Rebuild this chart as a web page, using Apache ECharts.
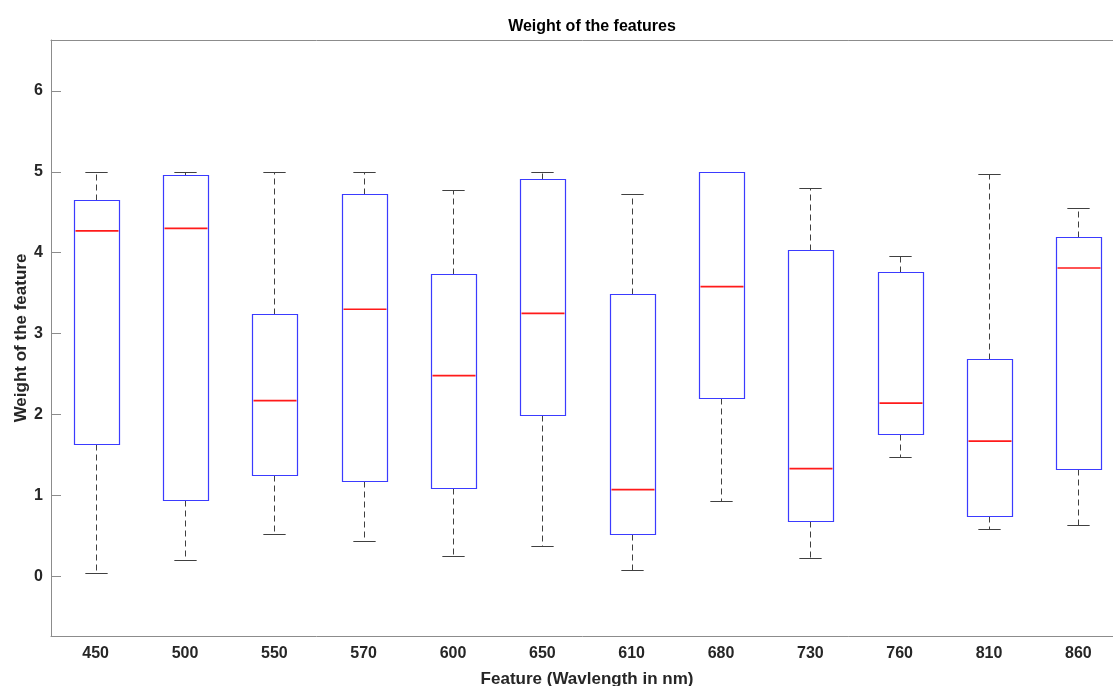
<!DOCTYPE html>
<html lang="en">
<head>
  <meta charset="UTF-8">
  <title>Weight of the features</title>
  <script src="https://cdn.jsdelivr.net/npm/echarts@6/dist/echarts.min.js"></script>
  <style>
    html, body { margin: 0; padding: 0; background: #fff; }
  </style>
</head>
<body>
<div id="main" style="width: 1113px; height: 686px;"></div>
<script>
// features (wavelength in nm), in the order shown
var features = ['450', '500', '550', '570', '600', '650', '610', '680', '730', '760', '810', '860'];

// box statistics
var whiskerLow  = [0.04, 0.20, 0.52, 0.44, 0.25, 0.37, 0.07, 0.93, 0.22, 1.47, 0.58, 0.63];
var quart1      = [1.63, 0.94, 1.25, 1.18, 1.09, 1.99, 0.52, 2.20, 0.68, 1.76, 0.75, 1.33];
var medians     = [4.27, 4.30, 2.17, 3.30, 2.48, 3.25, 1.07, 3.58, 1.33, 2.14, 1.67, 3.81];
var quart3      = [4.65, 4.96, 3.24, 4.72, 3.74, 4.91, 3.49, 5.00, 4.03, 3.76, 2.69, 4.20];
var whiskerHigh = [5.00, 5.00, 5.00, 5.00, 4.78, 5.00, 4.72, 5.00, 4.80, 3.96, 4.97, 4.55];

var yTicks = [0, 1, 2, 3, 4, 5, 6];

var rows = features.map(function (f, i) {
  return [i, whiskerLow[i], quart1[i], medians[i], quart3[i], whiskerHigh[i]];
});

var FONT = '"Liberation Sans", Arial, Helvetica, sans-serif';
var AXIS_COLOR = '#8c8c8c';
var TEXT_COLOR = '#262626';

function px(v) { return Math.round(v) + 0.5; }

function renderBox(params, api) {
  var idx = api.value(0);
  var band = api.size([1, 0])[0];
  var halfBox = band * 0.25;
  var halfCap = band * 0.125;
  var cx = px(api.coord([idx, 0])[0]);
  var yLo = px(api.coord([idx, api.value(1)])[1]);
  var yQ1 = px(api.coord([idx, api.value(2)])[1]);
  var yMed = api.coord([idx, api.value(3)])[1];
  var yQ3 = px(api.coord([idx, api.value(4)])[1]);
  var yHi = px(api.coord([idx, api.value(5)])[1]);
  var left = px(cx - halfBox), right = px(cx + halfBox);

  return {
    type: 'group',
    children: [
      { type: 'line', z2: 1, shape: { x1: cx, y1: yQ3, x2: cx, y2: yHi },
        style: { stroke: '#404040', lineWidth: 1, lineDash: [6, 4] } },
      { type: 'line', z2: 1, shape: { x1: cx, y1: yQ1, x2: cx, y2: yLo },
        style: { stroke: '#404040', lineWidth: 1, lineDash: [6, 4] } },
      { type: 'line', z2: 1, shape: { x1: cx - halfCap, y1: yHi, x2: cx + halfCap, y2: yHi },
        style: { stroke: '#404040', lineWidth: 1 } },
      { type: 'line', z2: 1, shape: { x1: cx - halfCap, y1: yLo, x2: cx + halfCap, y2: yLo },
        style: { stroke: '#404040', lineWidth: 1 } },
      { type: 'rect', z2: 2,
        shape: { x: left, y: yQ3, width: right - left, height: yQ1 - yQ3 },
        style: { fill: null, stroke: '#3b3bff', lineWidth: 1.2 } },
      { type: 'line', z2: 3, shape: { x1: left + 1, y1: yMed, x2: right - 1, y2: yMed },
        style: { stroke: '#ff1a1a', lineWidth: 1.6 } }
    ]
  };
}

var chart = echarts.init(document.getElementById('main'));

var option = {
  animation: false,
  backgroundColor: '#fff',
  title: {
    text: 'Weight of the features',
    left: 587,
    textAlign: 'center',
    top: 14,
    textStyle: { fontFamily: FONT, fontSize: 16, fontWeight: 'bold', color: '#000' }
  },
  grid: { left: 51, right: -10, top: 40, bottom: 50, containLabel: false, outerBoundsMode: 'none' },
  xAxis: [
    {
      type: 'category',
      data: features,
      position: 'bottom',
      name: 'Feature (Wavlength in nm)',
      nameLocation: 'middle',
      nameGap: 35,
      nameMoveOverlap: false,
      nameTextStyle: { fontFamily: FONT, fontSize: 17, fontWeight: 'bold', color: TEXT_COLOR },
      axisLine: { onZero: false, lineStyle: { color: AXIS_COLOR, width: 1 } },
      axisTick: { inside: true, length: 10, alignWithLabel: true, lineStyle: { color: AXIS_COLOR } },
      axisLabel: { margin: 10, fontFamily: FONT, fontSize: 16, fontWeight: 'bold', color: TEXT_COLOR },
      splitLine: { show: false }
    },
    {
      type: 'category',
      data: features,
      position: 'top',
      axisLine: { onZero: false, lineStyle: { color: AXIS_COLOR, width: 1 } },
      axisTick: { inside: true, length: 10, alignWithLabel: true, lineStyle: { color: AXIS_COLOR } },
      axisLabel: { show: false },
      splitLine: { show: false }
    }
  ],
  yAxis: [
    {
      type: 'value',
      position: 'left',
      min: -0.74,
      max: 6.63,
      name: 'Weight of the feature',
      nameLocation: 'middle',
      nameGap: 21,
      nameMoveOverlap: false,
      nameTextStyle: { fontFamily: FONT, fontSize: 17, fontWeight: 'bold', color: TEXT_COLOR },
      axisLine: { show: true, onZero: false, lineStyle: { color: AXIS_COLOR, width: 1 } },
      axisTick: { show: true, inside: true, length: 10, customValues: yTicks, lineStyle: { color: AXIS_COLOR } },
      axisLabel: { margin: 8, customValues: yTicks, fontFamily: FONT, fontSize: 16, fontWeight: 'bold', color: TEXT_COLOR },
      splitLine: { show: false }
    },
    {
      type: 'value',
      position: 'right',
      min: -0.74,
      max: 6.63,
      axisLine: { show: true, onZero: false, lineStyle: { color: AXIS_COLOR, width: 1 } },
      axisTick: { show: true, inside: true, length: 10, customValues: yTicks, lineStyle: { color: AXIS_COLOR } },
      axisLabel: { show: false },
      splitLine: { show: false }
    }
  ],
  series: [
    {
      type: 'custom',
      xAxisIndex: 0,
      yAxisIndex: 0,
      renderItem: renderBox,
      encode: { x: 0, y: [1, 2, 3, 4, 5] },
      data: rows,
      silent: true
    }
  ]
};

chart.setOption(option);
</script>
</body>
</html>
